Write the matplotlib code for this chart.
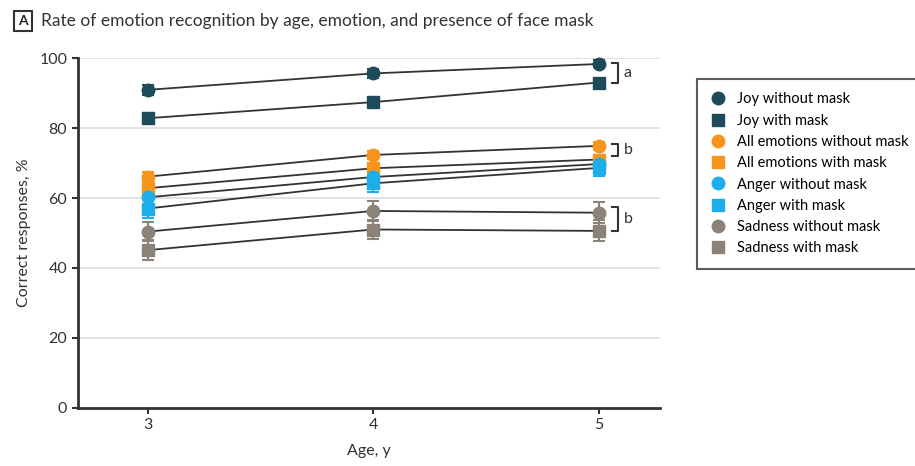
import matplotlib.pyplot as plt

plt.rcParams['font.family'] = ['Lato', 'DejaVu Sans']

ages = [3, 4, 5]

labels = ["Joy without mask", "Joy with mask",
          "All emotions without mask", "All emotions with mask",
          "Anger without mask", "Anger with mask",
          "Sadness without mask", "Sadness with mask"]

joy_no = [90.9, 95.6, 98.3]
joy_mask = [82.8, 87.4, 93.0]
all_no = [66.1, 72.3, 74.9]
all_mask = [62.8, 68.5, 71.0]
anger_no = [60.2, 66.0, 69.7]
anger_mask = [57.0, 64.2, 68.6]
sad_no = [50.4, 56.3, 55.8]
sad_mask = [45.1, 51.0, 50.6]

joy_err = [1.5, 1.2, 1.0]
all_err = [1.3, 1.2, 1.2]
anger_err = [2.8, 2.5, 2.3]
sad_err = [2.8, 2.8, 3.0]

series = [joy_no, joy_mask, all_no, all_mask, anger_no, anger_mask, sad_no, sad_mask]
errors = [joy_err, joy_err, all_err, all_err, anger_err, anger_err, sad_err, sad_err]
colors = ["#1d4b5a", "#1d4b5a", "#f7941d", "#f7941d",
          "#1cadea", "#1cadea", "#8b8279", "#8b8279"]
markers = ["o", "s"] * 4

fig = plt.figure(figsize=(9.15, 4.66), dpi=100)
ax = fig.add_axes([0.085, 0.1245, 0.636, 0.751])

# connecting lines first, markers on top
for vals in series:
    ax.plot(ages, vals, color="#333333", lw=1.3, zorder=3)
handles = []
for vals, err, c, m, lab in zip(series, errors, colors, markers, labels):
    ax.errorbar(ages, vals, yerr=err, fmt="none", ecolor=c, elinewidth=1.5,
                capsize=4, capthick=1.5, zorder=4, clip_on=False)
    h, = ax.plot(ages, vals, ls="none", marker=m, ms=9, color=c, zorder=5,
                 clip_on=False, label=lab)
    handles.append(h)

ax.set_xlim(2.69, 5.27)
ax.set_ylim(0, 100)
ax.set_xticks(ages)
ax.set_yticks(range(0, 101, 20))
ax.yaxis.grid(True, color="#dddddd", lw=1.2)
ax.set_axisbelow(True)
for s in ["top", "right"]:
    ax.spines[s].set_visible(False)
for s in ["left", "bottom"]:
    ax.spines[s].set_linewidth(2)
    ax.spines[s].set_color("#333333")
ax.tick_params(axis="both", labelsize=11.5, colors="#333333", width=1.5, length=4)
ax.set_xlabel("Age, y", fontsize=11.5, color="#333333", labelpad=8)
ax.set_ylabel("Correct responses, %", fontsize=11.5, color="#333333", labelpad=6)

# significance brackets
def bracket(y0, y1, text):
    ax.plot([5.06, 5.085, 5.085, 5.06], [y0, y0, y1, y1], color="#333333",
            lw=1.5, clip_on=False)
    ax.text(5.11, (y0 + y1) / 2, text, fontsize=11.5, color="#333333", va="center")

bracket(98.5, 93.0, "a")
bracket(75.5, 72.0, "b")
bracket(57.5, 50.5, "b")

leg = fig.legend(handles=handles, loc="upper left", bbox_to_anchor=(0.762, 0.83),
                 borderaxespad=0, frameon=True, fontsize=10.5, handletextpad=0.8,
                 labelspacing=0.5, borderpad=0.9, handlelength=1.0, fancybox=False)
leg.get_frame().set_edgecolor("#333333")
leg.get_frame().set_linewidth(1.5)

# panel title
fig.text(0.025, 0.955, "A", fontsize=10, fontweight="bold", color="#222222",
         va="center", ha="center",
         bbox=dict(boxstyle="square,pad=0.3", fc="white", ec="#333333", lw=1.5))
fig.text(0.045, 0.955, "Rate of emotion recognition by age, emotion, and presence of face mask",
         fontsize=12.5, color="#333333", va="center")

fig.savefig("out.png", dpi=100)
